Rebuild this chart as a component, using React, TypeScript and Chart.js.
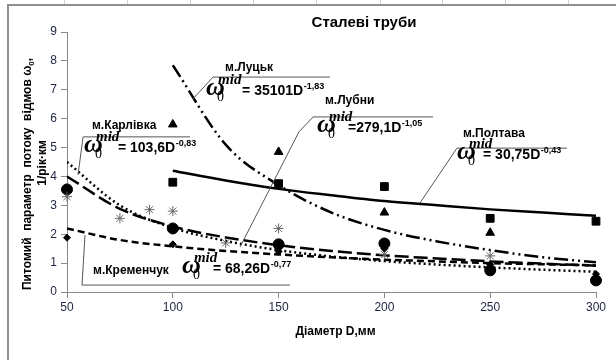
import React, { useEffect, useRef } from 'react';
import { Chart, registerables } from 'chart.js';

Chart.register(...registerables);

// ---- axis ticks ----
const xTickValues = [50, 100, 150, 200, 250, 300];
const yTickValues = [0, 1, 2, 3, 4, 5, 6, 7, 8, 9];

// ---- observed points (diameter D, failure rate) ----
const poltavaD = [100, 150, 200, 250, 300];
const poltavaW = [3.8, 3.75, 3.65, 2.55, 2.45];
const lutskD = [100, 150, 200, 250];
const lutskW = [5.8, 4.85, 2.75, 2.05];
const lubnyD = [50, 100, 150, 200, 250, 300];
const lubnyW = [3.55, 2.2, 1.65, 1.68, 0.75, 0.4];
const karlivkaD = [50, 75, 89, 100, 125, 150, 200, 250];
const karlivkaW = [3.3, 2.55, 2.85, 2.8, 1.7, 2.2, 1.3, 1.25];
const kremenD = [50, 100, 150, 200, 250, 300];
const kremenW = [1.88, 1.65, 1.4, 1.5, 0.95, 0.62];

// ---- trend curves ----
const trendShortD = [100, 125, 150, 175, 200, 225, 250, 275, 300];
const trendLutsk = [7.85, 5.1, 3.7, 2.75, 2.15, 1.75, 1.45, 1.2, 1.03];
const trendPoltava = [4.2, 3.86, 3.57, 3.35, 3.15, 3.0, 2.86, 2.75, 2.64];
const trendFullD = [50, 75, 100, 125, 150, 175, 200, 225, 250, 275, 300];
const trendLubny = [4.5, 3.0, 2.22, 1.77, 1.45, 1.23, 1.07, 0.95, 0.85, 0.77, 0.7];
const trendKarlivka = [4.0, 2.88, 2.27, 1.89, 1.62, 1.42, 1.27, 1.16, 1.06, 0.98, 0.91];
const trendKremen = [2.2, 1.8, 1.58, 1.42, 1.3, 1.2, 1.12, 1.06, 1.0, 0.96, 0.92];

// ---- texts ----
const titleText = 'Сталеві труби';
const xTitle = 'Діаметр D,мм';
const yTitleMain = 'Питомий  параметр  потоку  відмов ω';
const yTitleSub = '0';
const yTitleLine2 = '1/рік·км';

const cityNames = ['м.Луцьк', 'м.Карлівка', 'м.Лубни', 'м.Полтава', 'м.Кременчук'];
const eqTexts = ['= 35101D', '= 103,6D', '=279,1D', '= 30,75D', '= 68,26D'];
const eqExps = ['-1,83', '-0,83', '-1,05', '-0,43', '-0,77'];

// annotation placement (data coordinates: [D, value])
const labelPos = [
  [124.7, 7.65],
  [61.8, 5.64],
  [171.9, 6.51],
  [237.1, 5.37],
  [62.3, 0.62],
];
const formulaPos = [
  [116.2, 6.82],
  [58.5, 4.85],
  [168.6, 5.54],
  [234.8, 4.6],
  [104.8, 0.66],
];
const eqOffsets = [35, 33, 30, 25, 30];
const leaders = [
  [[109.5, 6.68], [119.0, 7.44], [174.3, 7.44]],
  [[55.2, 4.05], [57.6, 5.37], [108.1, 5.37]],
  [[131.8, 1.56], [159.6, 5.54], [166.3, 6.06], [223.0, 6.06]],
  [[216.8, 3.08], [234.3, 4.98], [286.3, 4.98]],
  [[58.5, 1.97], [57.1, 0.24], [155.4, 0.24]],
];

const zip = (xs: number[], ys: number[]) => xs.map((x, i) => ({ x, y: ys[i] }));

const SANS = '"Liberation Sans", Arial, sans-serif';
const SERIF = '"Liberation Serif", "Times New Roman", serif';

function drawFormula(ctx: CanvasRenderingContext2D, x0: number, base: number, off: number, eq: string, exp: string) {
  ctx.fillStyle = '#000';
  ctx.textAlign = 'left';
  ctx.textBaseline = 'alphabetic';
  ctx.font = `italic bold 26px ${SERIF}`;
  ctx.fillText('ω', x0 - 1, base);
  ctx.font = `14px ${SERIF}`;
  ctx.fillText('0', x0 + 10, base + 6);
  ctx.font = `italic bold 15px ${SERIF}`;
  ctx.fillText('mid', x0 + 11, base - 11);
  ctx.font = `bold 14px ${SANS}`;
  ctx.fillText(eq, x0 + off, base);
  const w = ctx.measureText(eq).width;
  ctx.font = `bold 9px ${SANS}`;
  ctx.fillText(exp, x0 + off + w + 0.5, base - 6);
}

const annotPlugin = {
  id: 'annotPlugin',
  afterDatasetsDraw(chart: any) {
    const ctx: CanvasRenderingContext2D = chart.ctx;
    const xs = chart.scales.x;
    const ys = chart.scales.y;
    const px = (d: number) => xs.getPixelForValue(d);
    const py = (v: number) => ys.getPixelForValue(v);
    ctx.save();
    ctx.strokeStyle = '#555';
    ctx.lineWidth = 1;
    leaders.forEach((pts) => {
      ctx.beginPath();
      pts.forEach(([d, v], i) => {
        if (i === 0) ctx.moveTo(px(d), py(v));
        else ctx.lineTo(px(d), py(v));
      });
      ctx.stroke();
    });
    ctx.fillStyle = '#000';
    ctx.textAlign = 'left';
    ctx.textBaseline = 'alphabetic';
    cityNames.forEach((n, i) => {
      ctx.font = `bold 12px ${SANS}`;
      ctx.fillText(n, px(labelPos[i][0]), py(labelPos[i][1]));
    });
    eqTexts.forEach((eq, i) => {
      drawFormula(ctx, px(formulaPos[i][0]), py(formulaPos[i][1]), eqOffsets[i], eq, eqExps[i]);
    });
    ctx.restore();
  },
  afterDraw(chart: any) {
    const ctx: CanvasRenderingContext2D = chart.ctx;
    const area = chart.chartArea;
    ctx.save();
    ctx.strokeStyle = '#8f8f8f';
    ctx.lineWidth = 2;
    ctx.beginPath();
    ctx.moveTo(8, 360);
    ctx.lineTo(8, 5);
    ctx.lineTo(616, 5);
    ctx.stroke();
    ctx.strokeStyle = '#d0d0d0';
    ctx.lineWidth = 1;
    [64, 127, 190, 253, 316, 380, 442, 505, 568].forEach((gx) => {
      ctx.beginPath();
      ctx.moveTo(gx + 0.5, 0);
      ctx.lineTo(gx + 0.5, 4);
      ctx.stroke();
    });
    ctx.fillStyle = '#000';
    ctx.textAlign = 'center';
    ctx.textBaseline = 'alphabetic';
    ctx.font = `bold 15px ${SANS}`;
    ctx.fillText(titleText, 364, 27);
    ctx.font = `bold 12px ${SANS}`;
    ctx.fillText(xTitle, (area.left + area.right) / 2 + 4, 335);
    ctx.save();
    ctx.translate(31, 290);
    ctx.rotate(-Math.PI / 2);
    ctx.textAlign = 'left';
    ctx.font = `bold 12px ${SANS}`;
    ctx.fillText(yTitleMain, 0, 0);
    let w = ctx.measureText(yTitleMain).width;
    ctx.font = `bold 8px ${SANS}`;
    ctx.fillText(yTitleSub, w, 3);
    w += ctx.measureText(yTitleSub).width;
    ctx.font = `bold 12px ${SANS}`;
    ctx.fillText(',', w, 0);
    ctx.restore();
    ctx.save();
    ctx.translate(46, 163);
    ctx.rotate(-Math.PI / 2);
    ctx.textAlign = 'center';
    ctx.font = `bold 12px ${SANS}`;
    ctx.fillText(yTitleLine2, 0, 0);
    ctx.restore();
    ctx.restore();
  },
};

const lineDs = (data: any[], dash: number[]) => ({
  type: 'line',
  data,
  showLine: true,
  borderColor: '#000',
  borderWidth: 2.5,
  borderDash: dash,
  pointRadius: 0,
  fill: false,
  cubicInterpolationMode: 'monotone',
  order: 2,
});

const markerDs = (data: any[], style: string, radius: number, color: string, bw: number) => ({
  type: 'scatter',
  data,
  showLine: false,
  pointStyle: style,
  pointRadius: radius,
  backgroundColor: color,
  borderColor: color,
  borderWidth: bw,
  clip: false,
  order: 1,
});

export default function App() {
  const canvasRef = useRef<HTMLCanvasElement | null>(null);

  useEffect(() => {
    document.body.style.margin = '0';
    const canvas = canvasRef.current;
    if (!canvas) return;
    const chart = new Chart(canvas, {
      type: 'scatter',
      data: {
        datasets: [
          lineDs(zip(trendShortD, trendLutsk), [14, 4, 2, 4, 2, 4]),
          lineDs(zip(trendShortD, trendPoltava), []),
          lineDs(zip(trendFullD, trendLubny), [2, 3]),
          lineDs(zip(trendFullD, trendKarlivka), [14, 5]),
          lineDs(zip(trendFullD, trendKremen), [7, 4]),
          markerDs(zip(kremenD, kremenW), 'rectRot', 3.5, '#000', 1),
          markerDs(zip(karlivkaD, karlivkaW), 'star', 5, '#666', 1),
          markerDs(zip(lubnyD, lubnyW), 'circle', 5.5, '#000', 1),
          markerDs(zip(lutskD, lutskW), 'triangle', 5, '#000', 1),
          markerDs(zip(poltavaD, poltavaW), 'rect', 5.5, '#000', 1),
        ] as any,
      },
      options: {
        responsive: false,
        animation: false,
        layout: { padding: { top: 32, right: 20, bottom: 0, left: 0 } },
        plugins: { legend: { display: false }, tooltip: { enabled: false }, title: { display: false } },
        scales: {
          x: {
            type: 'linear',
            min: 50,
            max: 300,
            afterFit: (s: any) => { s.height = 68; },
            afterBuildTicks: (s: any) => { s.ticks = xTickValues.map((v) => ({ value: v })); },
            ticks: { color: '#1e2240', font: { family: SANS, size: 12 }, padding: 2, maxRotation: 0 },
            grid: { drawOnChartArea: false, drawTicks: true, tickLength: 6, color: '#888' },
            border: { display: true, color: '#888', width: 1 },
          },
          y: {
            type: 'linear',
            min: 0,
            max: 9,
            afterFit: (s: any) => { s.width = 67; },
            afterBuildTicks: (s: any) => { s.ticks = yTickValues.map((v) => ({ value: v })); },
            ticks: { color: '#1e2240', font: { family: SANS, size: 12 }, padding: 4 },
            grid: { drawOnChartArea: false, drawTicks: true, tickLength: 6, color: '#888' },
            border: { display: true, color: '#888', width: 1 },
          },
        },
      } as any,
      plugins: [annotPlugin],
    });
    return () => chart.destroy();
  }, []);

  return (
    <div style={{ width: 616, height: 360, position: 'relative', background: '#fff' }}>
      <canvas ref={canvasRef} width={616} height={360} style={{ display: 'block' }} />
    </div>
  );
}
